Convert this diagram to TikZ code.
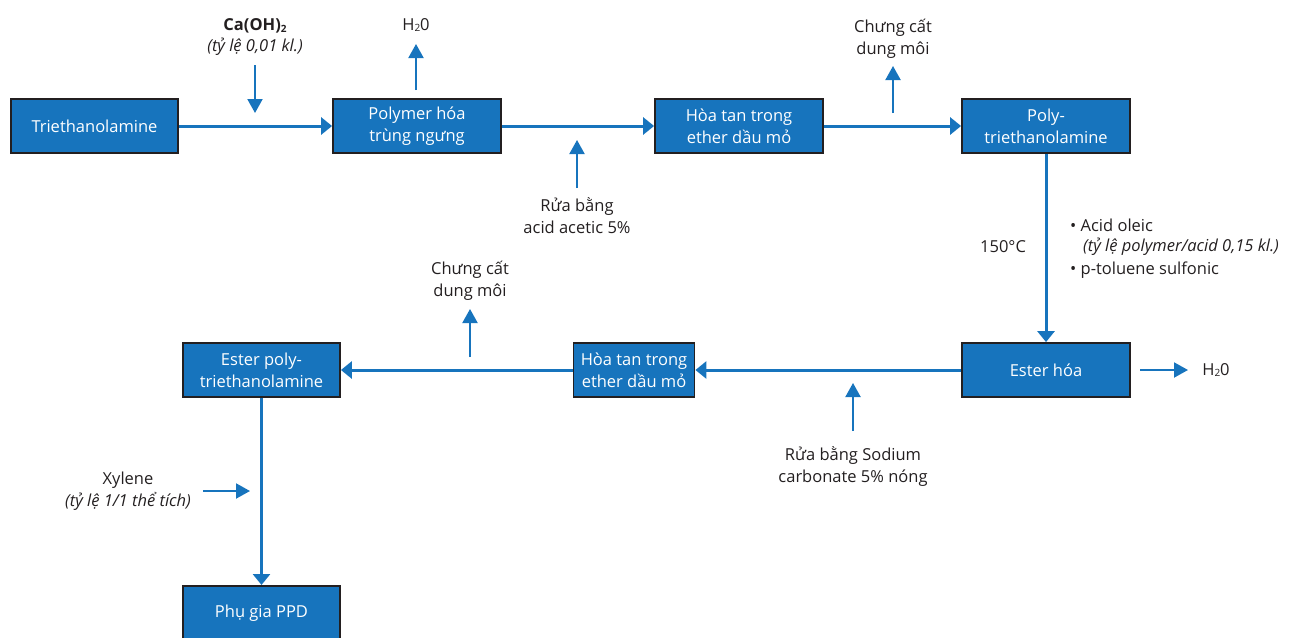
\documentclass[tikz,border=0pt]{standalone}
\usepackage{fontspec}
\setmainfont{Open Sans}
\usetikzlibrary{arrows.meta}
\definecolor{boxblue}{RGB}{23,116,189}
\definecolor{ink}{RGB}{35,31,32}
\newcommand{\subtwo}{\raisebox{-1.5pt}{\fontsize{10}{10}\selectfont 2}}
\tikzset{
  procbox/.style={draw=ink, line width=1.8pt, fill=boxblue, text=white, minimum height=54pt, align=center, font=\fontsize{16.5}{22}\selectfont, inner sep=0pt},
  flow/.style={draw=boxblue, line width=3pt, -{Triangle[length=11pt,width=17pt]}},
  side/.style={draw=boxblue, line width=2pt, -{Triangle[length=14pt,width=15pt]}},
  lbl/.style={text=ink, align=center, font=\fontsize{16.5}{22}\selectfont, inner sep=0pt},
}
\begin{document}
\begin{tikzpicture}[x=1pt,y=-1pt]
\useasboundingbox (0,0) rectangle (1289,637);
% boxes
\node[procbox, minimum width=167pt] (tea) at (94.5,126) {Triethanolamine};
\node[procbox, minimum width=168pt] (poly) at (417,126) {Polymer hóa\\trùng ngưng};
\node[procbox, minimum width=168pt] (hoa1) at (739,126) {Hòa tan trong\\ether dầu mỏ};
\node[procbox, minimum width=168pt] (ptea) at (1046,126) {Poly-\\triethanolamine};
\node[procbox, minimum width=168pt] (est) at (1046,370) {Ester hóa};
\node[procbox, minimum width=121pt] (hoa2) at (634,370) {Hòa tan trong\\ether dầu mỏ};
\node[procbox, minimum width=157pt] (eptea) at (261.5,370) {Ester poly-\\triethanolamine};
\node[procbox, minimum width=157pt, anchor=north] (ppd) at (261.5,585) {\raisebox{-1pt}{Phụ gia PPD}};
% main flow
\draw[flow] (tea.east) -- (poly.west);
\draw[flow] (poly.east) -- (hoa1.west);
\draw[flow] (hoa1.east) -- (ptea.west);
\draw[flow] (ptea.south) -- (est.north);
\draw[flow] (est.west) -- (hoa2.east);
\draw[flow] (hoa2.west) -- (eptea.east);
\draw[flow] (eptea.south) -- (ppd.north);
% labels
\node[lbl] (caoh) at (255,26) {\textbf{Ca(OH)\subtwo}};
\node[lbl] (caohr) at (255,47) {\textit{(tỷ lệ 0,01 kl.)}};
\coordinate (caA) at (255,65); \coordinate (caB) at (255,113);
\draw[side] (caA) -- (caB);
\node[lbl] (h2oa) at (416,25) {H\subtwo0};
\coordinate (hA) at (416,90); \coordinate (hB) at (416,44);
\draw[side] (hA) -- (hB);
\node[lbl] (rua1) at (577,216) {Rửa bằng\\acid acetic 5\%};
\coordinate (rA) at (577,188); \coordinate (rB) at (577,140);
\draw[side] (rA) -- (rB);
\node[lbl] (cc1) at (893,39) {Chưng cất\\dung môi};
\coordinate (cA) at (893,113); \coordinate (cB) at (893,66);
\draw[side] (cA) -- (cB);
\node[lbl] (temp) at (1003,247) {150°C};
\node[lbl, anchor=west] (acid) at (1070,225) {• Acid oleic};
\node[lbl, anchor=west] (ratio) at (1083,247) {\textit{(tỷ lệ polymer/acid 0,15 kl.)}};
\node[lbl, anchor=west] (ptol) at (1070,270) {• p-toluene sulfonic};
\coordinate (eA) at (1140,370); \coordinate (eB) at (1188,370);
\draw[side] (eA) -- (eB);
\node[lbl] (h2ob) at (1216,370) {H\subtwo0};
\node[lbl] (rua2) at (853,467) {Rửa bằng Sodium\\carbonate 5\% nóng};
\coordinate (sA) at (853,431); \coordinate (sB) at (853,383);
\draw[side] (sA) -- (sB);
\node[lbl] (cc2) at (470,281) {Chưng cất\\dung môi};
\coordinate (dA) at (470,357); \coordinate (dB) at (470,309);
\draw[side] (dA) -- (dB);
\node[lbl] (xyl) at (128,491) {Xylene\\\textit{(tỷ lệ 1/1 thể tích)}};
\coordinate (xA) at (203,491); \coordinate (xB) at (250,491);
\draw[side] (xA) -- (xB);
\end{tikzpicture}
\end{document}
